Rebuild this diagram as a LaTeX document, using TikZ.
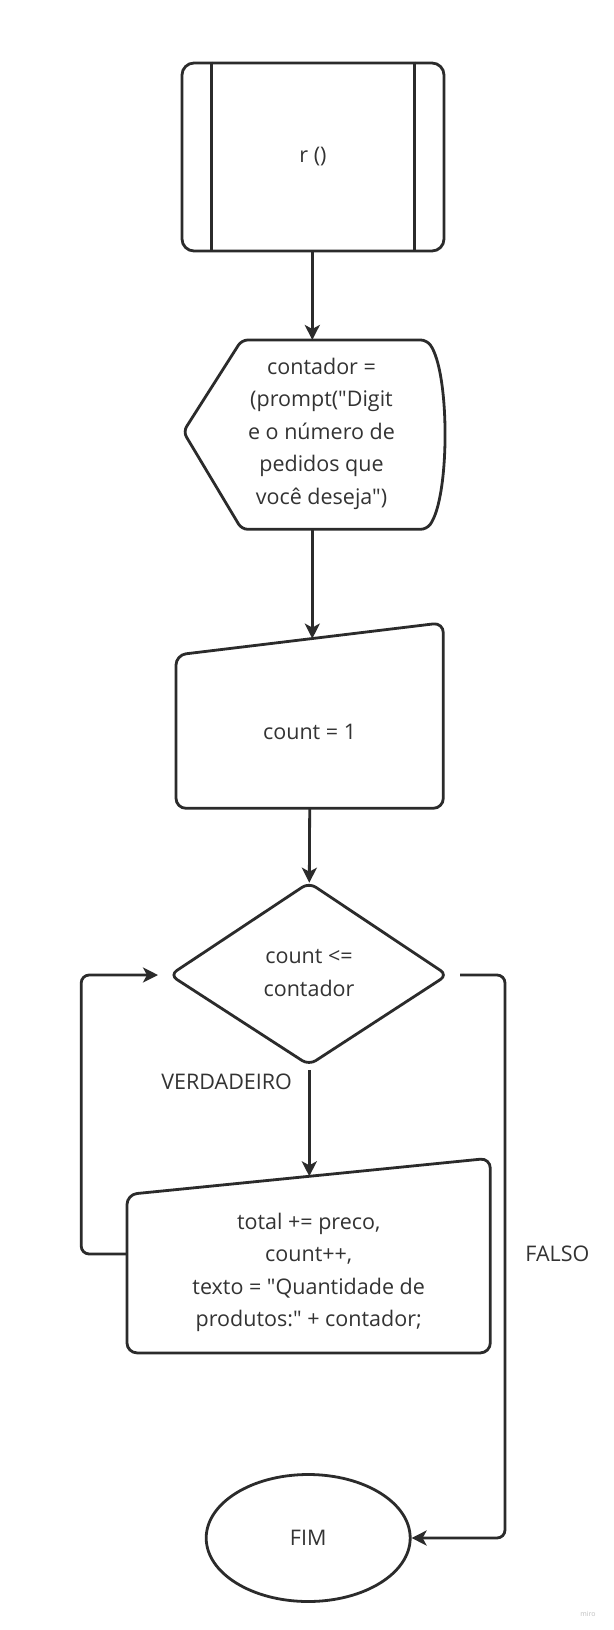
\documentclass[tikz,border=0pt]{standalone}
\usepackage{fontspec}
\setmainfont{Open Sans}[Ligatures=TeXOff]
\usetikzlibrary{arrows.meta,shapes.geometric}
\definecolor{ink}{HTML}{2B2B2B}
\definecolor{txt}{HTML}{333333}
\tikzset{
  shp/.style={draw=ink, line width=2.8pt, rounded corners=10pt},
  lbl/.style={text=txt, font=\fontsize{21.5}{32.5}\selectfont, align=center, inner sep=0pt},
  arr/.style={draw=ink, line width=2.8pt, rounded corners=8pt,
    -{Stealth[length=15pt,width=15pt,inset=4pt]}},
  lne/.style={draw=ink, line width=2.8pt, rounded corners=8pt}
}
\begin{document}
\begin{tikzpicture}[x=1pt,y=-1pt]
\useasboundingbox[fill=white] (0,0) rectangle (613,1630);

% subroutine
\node[shp, rounded corners=12pt, minimum width=262pt, minimum height=188pt, lbl] (sub) at (313,157) {r ()};
\draw[draw=ink, line width=2.8pt] ([xshift=31pt]sub.north west) -- ([xshift=31pt]sub.south west);
\draw[draw=ink, line width=2.8pt] ([xshift=-31pt]sub.north east) -- ([xshift=-31pt]sub.south east);

% display
\draw[shp, rounded corners=6pt] (241.7,340) -- (426.7,340)
  .. controls (450,372) and (450,497) .. (426.7,529.3)
  -- (241.7,529.3) -- (183.3,431.7) -- cycle;
\node[lbl] (disp) at (321.5,433.5) {contador =\\(prompt("Digit\\e o número de\\pedidos que\\você deseja")};
\coordinate (dispT) at (312.3,340);
\coordinate (dispB) at (312.3,529.3);

% manual input 1
\draw[shp] (176,655) -- (443.3,622.7) -- (443.3,808.3) -- (176,808.3) -- cycle;
\node[lbl] (mi1) at (309.6,731.7) {count = 1};
\coordinate (mi1T) at (312.3,638.6);
\coordinate (mi1B) at (309.7,808.3);

% decision
\draw[shp, rounded corners=8pt] (309,882.7) -- (447.3,975) -- (309,1065) -- (170,975) -- cycle;
\node[lbl] (dec) at (309,973) {count <=\\contador};
\coordinate (decT) at (309.3,882.7);
\coordinate (decB) at (309.3,1070);
\coordinate (decR) at (460,975);
\coordinate (decL) at (158,975);

% manual input 2
\draw[shp] (127,1194.5) -- (490.3,1158.2) -- (490.3,1352.9) -- (127,1352.9) -- cycle;
\node[lbl] (mi2) at (308.7,1272.5) {total += preco,\\count++,\\texto = "Quantidade de\\produtos:" + contador;};
\coordinate (mi2T) at (309.3,1176.3);
\coordinate (mi2L) at (127,1254);

% end
\node[draw=ink, line width=2.8pt, ellipse, minimum width=204pt, minimum height=127pt, lbl] (fim) at (308.2,1538) {FIM};

% connectors
\draw[arr] (sub.south -| dispT) -- (dispT);
\draw[arr] (dispB) -- (mi1T);
\draw[arr] (mi1B) -- (decT);
\draw[arr] (decB) -- (mi2T);
\draw[arr] (mi2L) -- (81.2,1254) -- (81.2,975) -- (decL);
\draw[arr] (decR) -- (505,975) -- (505,1538) -- (fim.east);

% labels
\node[lbl] (verd) at (226.7,1081.7) {VERDADEIRO};
\node[lbl] (falso) at (557.4,1254) {FALSO};
\node[text=black!25, font=\fontsize{7}{8}\selectfont, inner sep=0pt] (miro) at (588,1614) {miro};
\end{tikzpicture}
\end{document}
